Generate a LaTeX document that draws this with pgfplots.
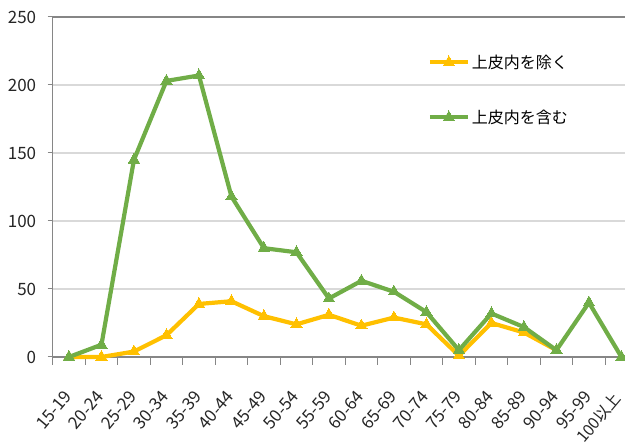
\documentclass[border=0pt]{standalone}
\usepackage{fontspec}
\setmainfont{Noto Sans CJK JP}
\usepackage{pgfplots}
\pgfplotsset{compat=1.18}
\definecolor{cyel}{HTML}{FFC000}
\definecolor{cgrn}{HTML}{70AD47}
\definecolor{axgray}{HTML}{868686}
\definecolor{grgray}{HTML}{D9D9D9}

\begin{document}
\begin{tikzpicture}
\begin{axis}[
  scale only axis,
  width=572.3pt, height=340pt,
  xmin=-0.5, xmax=17.11,
  ymin=0, ymax=250,
  clip=false,
  axis x line*=bottom, axis y line*=left,
  axis line style={draw=axgray, line width=1.2pt},
  ymajorgrids,
  grid style={draw=grgray, line width=1.3pt},
  tick align=outside,
  major tick length=5pt, minor tick length=8pt,
  tick style={draw=axgray, line width=1pt},
  xtick={0,...,16},
  xticklabels={15-19,20-24,25-29,30-34,35-39,40-44,45-49,50-54,55-59,60-64,65-69,70-74,75-79,80-84,85-89,90-94,95-99},
  extra x ticks={17},
  extra x tick labels={100以上},
  extra x tick style={major x tick style={draw=none}, xticklabel style={font=\fontsize{16}{16}\selectfont, xshift=-3.3pt, yshift=0.8pt}},
  major x tick style={draw=none},
  minor xtick={-0.5,0.5,...,16.5},
  ytick={0,50,...,250},
  /pgf/number format/assume math mode=true,
  tick label style={font=\fontsize{17}{17}\selectfont, text=black!85},
  yticklabel style={xshift=-8pt},
  xticklabel style={font=\fontsize{17}{17}\selectfont, xshift=-1pt, yshift=-31pt, rotate=50, anchor=east, inner sep=0pt},
  legend style={at={(rel axis cs:0.655,0.895)}, anchor=north west, draw=none, fill=none,
    font=\fontsize{16}{16}\selectfont, row sep=36pt, inner sep=0pt},
  legend cell align=left,
  legend image code/.code={\draw[mark repeat=2, mark phase=2] plot coordinates {(0pt,0pt) (19pt,0pt) (38pt,0pt)};},
  every axis plot/.append style={line width=4.2pt, mark=triangle*, mark size=6.5pt, mark options={solid, line width=0pt}},
]
\coordinate (ll) at (rel axis cs:0,0);
\coordinate (ur) at (rel axis cs:1,1);
\draw[axgray, line width=1.5pt] (rel axis cs:0,1) -- (rel axis cs:1,1);

\addplot[cyel] coordinates {
(0,0) (1,0) (2,4) (3,16) (4,39) (5,41) (6,30) (7,24) (8,31) (9,23)
(10,29) (11,24) (12,1) (13,25) (14,18) (15,5)
};
\addlegendentry{上皮内を除く}

\addplot[cgrn] coordinates {
(0,0) (1,9) (2,145) (3,203) (4,207) (5,118) (6,80) (7,77) (8,43) (9,56)
(10,48) (11,33) (12,5) (13,32) (14,22) (15,5) (16,40) (17,0)
};
\addlegendentry{上皮内を含む}
\end{axis}
\pgfresetboundingbox
\path ([xshift=-52.7pt,yshift=-88pt]ll) rectangle ([yshift=17pt]ur);
\end{tikzpicture}
\end{document}
